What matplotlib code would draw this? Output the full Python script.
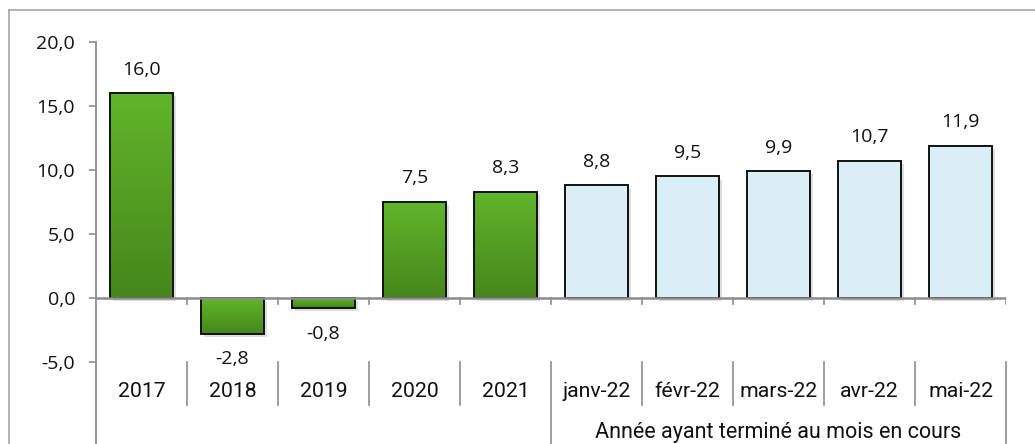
import numpy as np
import matplotlib
matplotlib.use("Agg")
import matplotlib.pyplot as plt
from matplotlib.patches import Rectangle
from matplotlib.lines import Line2D
from matplotlib.colors import LinearSegmentedColormap

categories = ["2017", "2018", "2019", "2020", "2021",
              "janv-22", "févr-22", "mars-22", "avr-22", "mai-22"]
values = [16.0, -2.8, -0.8, 7.5, 8.3, 8.8, 9.5, 9.9, 10.7, 11.9]
n_annual = 5
group_label = "Année ayant terminé au mois en cours"
yticks = [-5, 0, 5, 10, 15, 20]

numfont = ["Open Sans", "DejaVu Sans"]
narrow = ["Liberation Sans Narrow", "Roboto", "DejaVu Sans"]

AX = "#8c8c8c"
fig = plt.figure(figsize=(10.35, 4.44), dpi=100)
ax = fig.add_axes([96 / 1035, 0, 910 / 1035, 1 - 42 / 444])
ymin = -(444 - 298) / 12.8
for s in ["top", "right", "bottom"]:
    ax.spines[s].set_visible(False)
ax.spines["left"].set_color(AX)
ax.spines["left"].set_linewidth(1.3)
ax.set_xticks([])
ax.set_yticks(yticks)
ax.set_yticklabels([f"{t:.1f}".replace(".", ",") for t in yticks],
                   fontfamily=numfont, fontsize=14, color="#111111")
ax.tick_params(axis="y", direction="out", length=5, width=1.2, color=AX, pad=10)

w = 0.69
grad = np.linspace(0, 1, 256).reshape(-1, 1)
gcmap = LinearSegmentedColormap.from_list("g", ["#45871b", "#61b52a"])

for i, v in enumerate(values):
    lo, hi = min(0, v), max(0, v)
    # shadow
    ax.add_patch(Rectangle((i - w / 2 + 0.03, lo - 0.25), w, hi - lo,
                           facecolor="#000000", alpha=0.13, edgecolor="none", zorder=1))
    if i < n_annual:
        rect = Rectangle((i - w / 2, lo), w, hi - lo, facecolor="none",
                         edgecolor="#111111", linewidth=1.4, zorder=3)
        ax.add_patch(rect)
        im = ax.imshow(grad, cmap=gcmap, aspect="auto", origin="lower",
                       extent=(i - w / 2, i + w / 2, lo, hi), zorder=2)
        im.set_clip_path(rect)
    else:
        ax.add_patch(Rectangle((i - w / 2, lo), w, hi - lo, facecolor="#daeef6",
                               edgecolor="#111111", linewidth=1.4, zorder=3))
    txt = f"{v:.1f}".replace(".", ",")
    if v >= 0:
        ax.text(i, v + 1.85, txt, ha="center", va="center",
                fontfamily=numfont, fontsize=14, color="#111111")
    else:
        ax.text(i, v - 2.0, txt, ha="center", va="center",
                fontfamily=numfont, fontsize=14, color="#111111")

ax.set_xlim(-0.5, len(categories) - 0.5)
ax.set_ylim(ymin, 20)

# zero line with small ticks
ax.plot([-0.5, len(categories) - 0.5], [0, 0], color=AX, lw=1.8, zorder=4,
        solid_capstyle="butt")
for k in range(1, len(categories) + 1):
    ax.plot([k - 0.5, k - 0.5], [0, -0.45], color=AX, lw=1.2, zorder=4)

# category label separators
y_sep_bot = -(405 - 298) / 12.8
for k in range(1, len(categories) + 1):
    x = k - 0.5
    bot = ymin if k in (n_annual, len(categories)) else y_sep_bot
    ax.plot([x, x], [-5, bot], color=AX, lw=1.2, clip_on=False)

for i, c in enumerate(categories):
    ax.text(i, -(391 - 298) / 12.8, c, ha="center", va="center",
            fontfamily=narrow, fontsize=15.3, color="#111111")

ax.text((n_annual - 0.5 + len(categories) - 0.5) / 2, -(432 - 298) / 12.8,
        group_label, ha="center", va="center",
        fontfamily=narrow, fontsize=15.5, color="#111111")

# outer frame
fig.add_artist(Line2D([9 / 1035, 9 / 1035], [0, 1 - 10 / 444], color="#a6a6a6", lw=1.2))
fig.add_artist(Line2D([9 / 1035, 1], [1 - 10 / 444, 1 - 10 / 444], color="#a6a6a6", lw=1.2))

fig.savefig("out.png", dpi=100)
